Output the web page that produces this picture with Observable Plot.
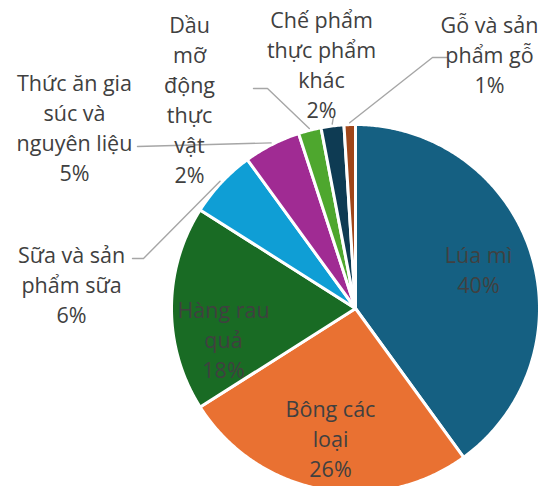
<!DOCTYPE html>
<html><head><meta charset="utf-8">
<script src="https://cdn.jsdelivr.net/npm/d3@7"></script>
<script src="https://cdn.jsdelivr.net/npm/@observablehq/plot@0.6"></script>
<style>html,body{margin:0;padding:0;background:#fff;overflow:hidden}</style>
</head><body><div id="chart"></div>
<script>
// ---- data ----
const categories = ["Lúa mì","Bông các loại","Hàng rau quả","Sữa và sản phẩm sữa","Thức ăn gia súc và nguyên liệu","Dầu mỡ động thực vật","Chế phẩm thực phẩm khác","Gỗ và sản phẩm gỗ"];
const labelTexts = ["Lúa mì","Bông các\nloại","Hàng rau\nquả","Sữa và sản\nphẩm sữa","Thức ăn gia\nsúc và\nnguyên liệu","Dầu\nmỡ\nđộng\nthực\nvật","Chế phẩm\nthực phẩm\nkhác","Gỗ và sản\nphẩm gỗ"];
const shares = [40, 26, 18, 6, 5, 2, 2, 1];
const colors = ["#156082","#E97132","#196B24","#0F9ED5","#A02B93","#4EA72E","#0E3B53","#A0461A"];

// ---- layout (pixels) ----
const W = 539, H = 486, CX = 355, CY = 308, R = 184;
const labelLayout = [[478,268],[330,437],[223,338],[71,283],[74,126],[189,98],[321,63],[489,53]];
const leaderLayout = [null,null,null,[[132,258],[143,258]],[[137,146]],[[253,88],[267,88]],[[333,116]],[[447,57],[432,57]]];

const toX = px => (px - CX) / R;
const toY = py => (CY - py) / R;

const arcs = d3.pie().sort(null).value(d => d)(shares);

const slicePts = [];
arcs.forEach((a, i) => {
  const cat = categories[i];
  slicePts.push({cat, x: 0, y: 0});
  const n = Math.max(2, Math.ceil((a.endAngle - a.startAngle) / (Math.PI / 360)));
  for (let k = 0; k <= n; k++) {
    const t = a.startAngle + (a.endAngle - a.startAngle) * k / n;
    slicePts.push({cat, x: Math.sin(t), y: Math.cos(t)});
  }
  slicePts.push({cat, x: 0, y: 0});
});

const leaderPts = [];
arcs.forEach((a, i) => {
  const lay = leaderLayout[i];
  if (!lay) return;
  const cat = categories[i];
  lay.forEach(([px, py]) => leaderPts.push({cat, x: toX(px), y: toY(py)}));
  const m = (a.startAngle + a.endAngle) / 2;
  leaderPts.push({cat, x: 1.01 * Math.sin(m), y: 1.01 * Math.cos(m)});
});

const labels = arcs.map((a, i) => ({
  cat: categories[i],
  text: labelTexts[i] + "\n" + shares[i] + "%",
  x: toX(labelLayout[i][0]),
  y: toY(labelLayout[i][1])
}));

const chart = Plot.plot({
  width: W, height: H,
  marginLeft: CX - R, marginRight: W - (CX + R), marginTop: CY - R, marginBottom: 0,
  x: {domain: [-1, 1], axis: null},
  y: {domain: [-(H - CY) / R, 1], axis: null},
  color: {domain: categories, range: colors},
  style: {fontFamily: "'Open Sans', sans-serif", background: "#fff", overflow: "visible"},
  marks: [
    Plot.line(slicePts, {x: "x", y: "y", z: "cat", fill: "cat", stroke: "#fff", strokeWidth: 3, strokeLinejoin: "round", curve: "linear"}),
    Plot.line(leaderPts, {x: "x", y: "y", z: "cat", stroke: "#A6A6A6", strokeWidth: 1.4}),
    Plot.text(labels, {x: "x", y: "y", text: "text", fill: "#404040", fontSize: 21.5, lineHeight: 1.4})
  ]
});
document.getElementById("chart").appendChild(chart);
</script>
</body></html>
